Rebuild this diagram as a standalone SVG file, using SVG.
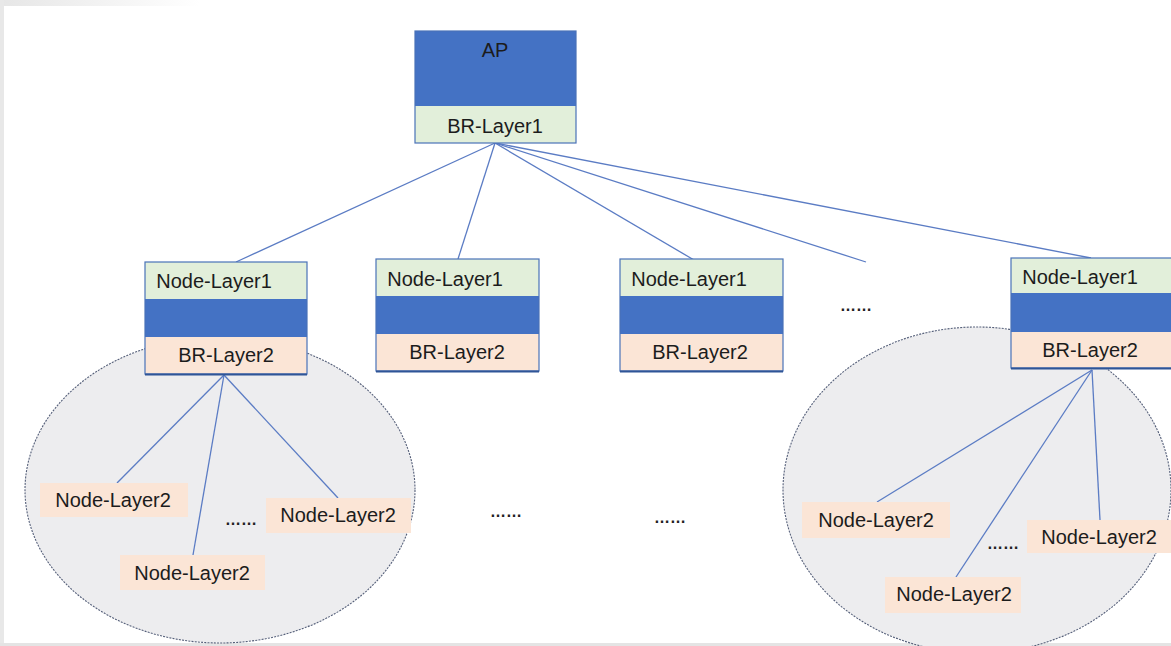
<svg xmlns="http://www.w3.org/2000/svg" width="1171" height="646" viewBox="0 0 1171 646">
  <defs>
    <linearGradient id="topFade" x1="0" y1="0" x2="1" y2="0">
      <stop offset="0" stop-color="#e6e6e6"/>
      <stop offset="1" stop-color="#ffffff"/>
    </linearGradient>
    <style>
      .lbl { font-family: "Liberation Sans", Arial, sans-serif; font-size: 20px; fill: #1c1c1c; }
      .mid { text-anchor: middle; }
      .dots { font-family: "Liberation Sans", Arial, sans-serif; font-size: 16px; font-weight: bold; fill: #222; text-anchor: middle; }
      .blue { fill: #4472C4; }
      .green { fill: #E2EFDA; }
      .peach { fill: #FBE5D6; }
      .frame { fill: none; stroke: #4A72B8; stroke-width: 1.2; }
      .base { stroke: #2F5597; stroke-width: 2.2; }
      .link { stroke: #5B7CC4; stroke-width: 1.3; fill: none; }
      .zone { fill: #EDEDEF; stroke: #56607A; stroke-width: 1.1; stroke-dasharray: 2 1.2; }
    </style>
  </defs>

  <!-- page background and window edge -->
  <rect x="0" y="0" width="1171" height="646" fill="#ffffff"/>
  <rect x="0" y="0" width="200" height="6" fill="url(#topFade)"/>
  <rect x="0" y="0" width="4" height="646" fill="#e8e8e8"/>
  <rect x="0" y="643" width="1171" height="3" fill="#e4e4e4"/>

  <!-- layer-2 zones -->
  <ellipse class="zone" cx="220" cy="490" rx="195" ry="153"/>
  <ellipse class="zone" cx="977" cy="490" rx="194" ry="163"/>

  <!-- connectors -->
  <g id="connectors">
    <line class="link" x1="495" y1="143" x2="236" y2="262"/>
    <line class="link" x1="495" y1="143" x2="458" y2="259"/>
    <line class="link" x1="495" y1="143" x2="694" y2="260"/>
    <line class="link" x1="495" y1="143" x2="866" y2="262"/>
    <line class="link" x1="495" y1="143" x2="1091" y2="258"/>
    <line class="link" x1="224" y1="375" x2="117" y2="483"/>
    <line class="link" x1="224" y1="375" x2="193" y2="555"/>
    <line class="link" x1="224" y1="375" x2="338" y2="498"/>
    <line class="link" x1="1092" y1="370" x2="877" y2="502"/>
    <line class="link" x1="1092" y1="370" x2="956" y2="577"/>
    <line class="link" x1="1092" y1="370" x2="1100" y2="520"/>
  </g>

  <!-- access point -->
  <g id="ap">
    <rect class="blue" x="415" y="31" width="161" height="75"/>
    <rect class="green" x="415" y="106" width="161" height="37"/>
    <rect class="frame" x="415" y="31" width="161" height="112"/>
    <text class="lbl mid" x="495" y="57">AP</text>
    <text class="lbl mid" x="495" y="133">BR-Layer1</text>
  </g>

  <!-- layer-1 nodes -->
  <g id="node1">
    <rect class="green" x="145" y="262" width="162" height="37"/>
    <rect class="blue" x="145" y="299" width="162" height="38"/>
    <rect class="peach" x="145" y="337" width="162" height="37"/>
    <rect class="frame" x="145" y="262" width="162" height="112"/>
    <line class="base" x1="145" y1="374.5" x2="307" y2="374.5"/>
    <text class="lbl mid" x="214" y="288">Node-Layer1</text>
    <text class="lbl mid" x="226" y="362">BR-Layer2</text>
  </g>
  <g id="node2">
    <rect class="green" x="376" y="259" width="163" height="37"/>
    <rect class="blue" x="376" y="296" width="163" height="38"/>
    <rect class="peach" x="376" y="334" width="163" height="37"/>
    <rect class="frame" x="376" y="259" width="163" height="112"/>
    <line class="base" x1="376" y1="371.5" x2="539" y2="371.5"/>
    <text class="lbl mid" x="445" y="286">Node-Layer1</text>
    <text class="lbl mid" x="457" y="359">BR-Layer2</text>
  </g>
  <g id="node3">
    <rect class="green" x="620" y="259" width="163" height="37"/>
    <rect class="blue" x="620" y="296" width="163" height="38"/>
    <rect class="peach" x="620" y="334" width="163" height="37"/>
    <rect class="frame" x="620" y="259" width="163" height="112"/>
    <line class="base" x1="620" y1="371.5" x2="783" y2="371.5"/>
    <text class="lbl mid" x="689" y="286">Node-Layer1</text>
    <text class="lbl mid" x="700" y="359">BR-Layer2</text>
  </g>
  <g id="node4">
    <rect class="green" x="1011" y="258" width="162" height="35"/>
    <rect class="blue" x="1011" y="293" width="162" height="39"/>
    <rect class="peach" x="1011" y="332" width="162" height="36"/>
    <rect class="frame" x="1011" y="258" width="162" height="110"/>
    <line class="base" x1="1011" y1="368.5" x2="1173" y2="368.5"/>
    <text class="lbl mid" x="1080" y="284">Node-Layer1</text>
    <text class="lbl mid" x="1090" y="357">BR-Layer2</text>
  </g>

  <!-- layer-2 nodes, left zone -->
  <g id="leaf-l1">
    <rect class="peach" x="40" y="483" width="148" height="34"/>
    <text class="lbl mid" x="113" y="507">Node-Layer2</text>
  </g>
  <g id="leaf-l2">
    <rect class="peach" x="266" y="498" width="145" height="35"/>
    <text class="lbl mid" x="338" y="522">Node-Layer2</text>
  </g>
  <g id="leaf-l3">
    <rect class="peach" x="120" y="555" width="145" height="35"/>
    <text class="lbl mid" x="192" y="580">Node-Layer2</text>
  </g>

  <!-- layer-2 nodes, right zone -->
  <g id="leaf-r1">
    <rect class="peach" x="802" y="502" width="148" height="36"/>
    <text class="lbl mid" x="876" y="527">Node-Layer2</text>
  </g>
  <g id="leaf-r2">
    <rect class="peach" x="1027" y="520" width="144" height="33"/>
    <text class="lbl mid" x="1099" y="544">Node-Layer2</text>
  </g>
  <g id="leaf-r3">
    <rect class="peach" x="885" y="577" width="136" height="36"/>
    <text class="lbl mid" x="954" y="601">Node-Layer2</text>
  </g>

  <!-- ellipses marking omitted nodes -->
  <text class="dots" x="856" y="311">……</text>
  <text class="dots" x="506" y="517">……</text>
  <text class="dots" x="670" y="523">……</text>
  <text class="dots" x="241" y="525">……</text>
  <text class="dots" x="1003" y="549">……</text>
</svg>
